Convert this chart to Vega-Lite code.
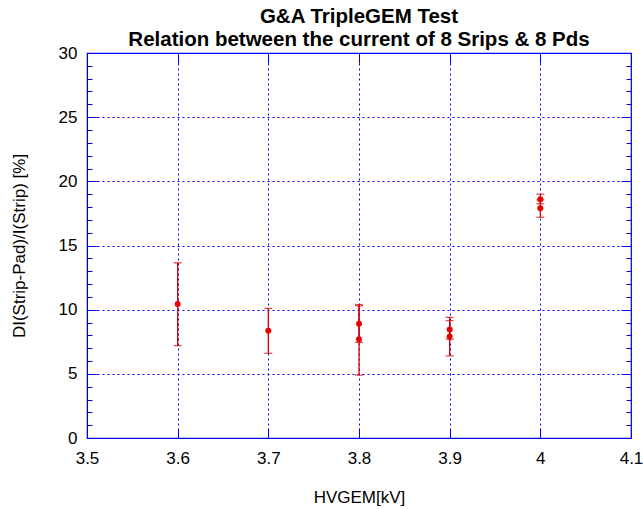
{
  "$schema": "https://vega.github.io/schema/vega-lite/v6.json",
  "width": 544,
  "height": 385,
  "autosize": {"type": "none"},
  "padding": {"left": 87, "top": 53, "right": 12, "bottom": 71},
  "background": "white",
  "config": {
    "font": "Liberation Sans",
    "view": {"stroke": "#0000ff", "strokeWidth": 1.2}
  },
  "title": {
    "text": ["G&A TripleGEM Test", "Relation between the current of 8 Srips & 8 Pds"],
    "font": "Liberation Sans",
    "fontSize": 20.5,
    "fontWeight": "bold",
    "lineHeight": 23,
    "anchor": "middle",
    "offset": -6,
    "color": "black"
  },
  "data": {
    "values": [
      {"hv": 3.6, "val": 10.45, "lo": 7.2, "hi": 13.65},
      {"hv": 3.7, "val": 8.35, "lo": 6.6, "hi": 10.1},
      {"hv": 3.8, "val": 8.9, "lo": 7.45, "hi": 10.3},
      {"hv": 3.8, "val": 7.7, "lo": 4.9, "hi": 10.4},
      {"hv": 3.9, "val": 8.45, "lo": 7.7, "hi": 9.15},
      {"hv": 3.9, "val": 7.9, "lo": 6.4, "hi": 9.4},
      {"hv": 4.0, "val": 18.6, "lo": 18.25, "hi": 19.0},
      {"hv": 4.0, "val": 17.9, "lo": 17.2, "hi": 18.55}
    ]
  },
  "resolve": {"axis": {"x": "independent", "y": "independent"}},
  "layer": [
    {
      "mark": {"type": "rule", "color": "#d40000", "strokeWidth": 1.3},
      "encoding": {
        "x": {
          "field": "hv", "type": "quantitative",
          "scale": {"domain": [3.5, 4.1], "nice": false, "zero": false},
          "axis": {
            "orient": "bottom",
            "title": "HVGEM[kV]",
            "titleFontSize": 17,
            "titleFontWeight": "normal",
            "titleColor": "black",
            "titlePadding": 23,
            "values": [3.5, 3.6, 3.7, 3.8, 3.9, 4.0, 4.1],
            "format": "~g",
            "labelFontSize": 17,
            "labelColor": "black",
            "labelPadding": 22,
            "labelFlush": false,
            "tickSize": -10,
            "tickColor": "#0000ff",
            "domainColor": "#0000ff",
            "grid": true,
            "gridColor": "#0000ff",
            "gridDash": [2, 3],
            "gridWidth": 1
          }
        },
        "y": {
          "field": "lo", "type": "quantitative",
          "scale": {"domain": [0, 30], "nice": false, "zero": true},
          "axis": {
            "orient": "left",
            "title": "DI(Strip-Pad)/I(Strip) [%]",
            "titleFontSize": 17,
            "titleFontWeight": "normal",
            "titleColor": "black",
            "titlePadding": 30,
            "values": [0,1,2,3,4,5,6,7,8,9,10,11,12,13,14,15,16,17,18,19,20,21,22,23,24,25,26,27,28,29,30],
            "labelExpr": "datum.value % 5 == 0 ? datum.label : ''",
            "labelFontSize": 17,
            "labelColor": "black",
            "labelPadding": 20,
            "labelFlush": false,
            "tickSize": {"condition": {"test": "datum.value % 5 == 0", "value": -10}, "value": -5},
            "tickColor": "#0000ff",
            "domainColor": "#0000ff",
            "grid": true,
            "gridColor": "#0000ff",
            "gridDash": [2, 3],
            "gridWidth": 1,
            "gridOpacity": {"condition": {"test": "datum.value % 5 == 0 && datum.value > 0 && datum.value < 30", "value": 1}, "value": 0}
          }
        },
        "y2": {"field": "hi"}
      }
    },
    {
      "mark": {"type": "tick", "orient": "horizontal", "color": "#d40000", "size": 8, "thickness": 1.3},
      "encoding": {
        "x": {
          "field": "hv", "type": "quantitative",
          "axis": {
            "orient": "top", "title": null, "labels": false, "grid": false, "domain": false,
            "values": [3.5, 3.6, 3.7, 3.8, 3.9, 4.0, 4.1],
            "tickSize": -10, "tickColor": "#0000ff"
          }
        },
        "y": {
          "field": "lo", "type": "quantitative",
          "axis": {
            "orient": "right", "title": null, "labels": false, "grid": false, "domain": false,
            "values": [0,1,2,3,4,5,6,7,8,9,10,11,12,13,14,15,16,17,18,19,20,21,22,23,24,25,26,27,28,29,30],
            "tickSize": {"condition": {"test": "datum.value % 5 == 0", "value": -10}, "value": -5},
            "tickColor": "#0000ff"
          }
        }
      }
    },
    {
      "mark": {"type": "tick", "orient": "horizontal", "color": "#d40000", "size": 8, "thickness": 1.3},
      "encoding": {
        "x": {"field": "hv", "type": "quantitative", "axis": null},
        "y": {"field": "hi", "type": "quantitative", "axis": null}
      }
    },
    {
      "mark": {"type": "point", "filled": true, "color": "#e80000", "opacity": 1, "size": 36},
      "encoding": {
        "x": {"field": "hv", "type": "quantitative", "axis": null},
        "y": {"field": "val", "type": "quantitative", "axis": null}
      }
    }
  ]
}
